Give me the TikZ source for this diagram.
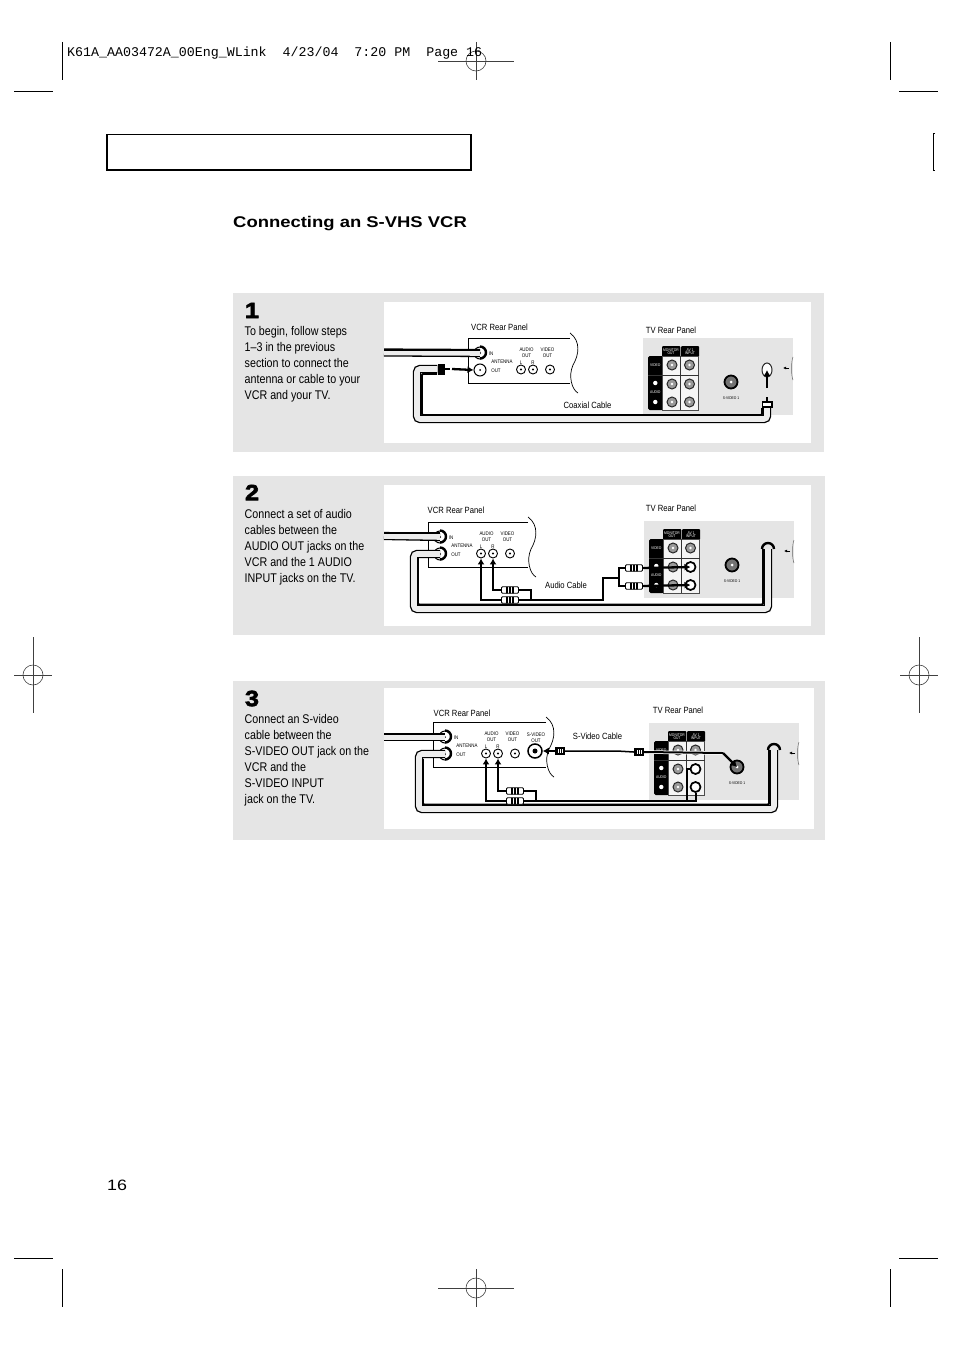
\documentclass[tikz,border=0pt]{standalone}
\usepackage{fontspec}
\usetikzlibrary{arrows.meta,shapes.geometric}
\setmainfont{Liberation Sans}
\newfontfamily\narrowfont[FakeStretch=0.85]{Liberation Sans}
\newfontfamily\widefont[FakeStretch=1.19]{Liberation Sans}
\newfontfamily\numfont[BoldFeatures={FakeStretch=1.15,FakeBold=3}]{Liberation Sans}
\newcommand{\tinytext}{\narrowfont\fontsize{3.9}{4.6}\selectfont}
\newcommand{\vcrtext}{\narrowfont\fontsize{5.2}{6.3}\selectfont}
\tikzset{
  panelbg/.style={fill=black!10},
  crop/.style={line width=0.6pt,black!75},
  cable/.style={double=black!7,double distance=5.6pt,line width=1.3pt,rounded corners=3pt},
  edge/.style={line width=1.8pt,rounded corners=1pt},
  wire/.style={line width=2pt},
  feed/.style={line width=2.3pt,-{Latex[length=6pt,width=7pt]}},
  caption/.style={font=\narrowfont\fontsize{9}{10}\selectfont,inner sep=0pt},
  steptext/.style={font=\narrowfont\fontsize{12.6}{16}\selectfont,align=left,anchor=north west,inner sep=0pt},
  stepnum/.style={font=\numfont\bfseries\fontsize{22}{22}\selectfont,inner sep=0pt},
  tiny/.style={font=\tinytext,align=center,inner sep=0pt},
  vcrlabel/.style={font=\vcrtext,align=center,inner sep=0pt},
  tvjack/.style={circle,draw=black!85,line width=1pt,fill=black!40,minimum size=10pt,inner sep=0pt},
  tvjackon/.style={circle,draw,line width=1.7pt,fill=white,minimum size=10pt,inner sep=0pt},
  vcrjack/.style={circle,draw,line width=0.9pt,fill=white,minimum size=9pt,inner sep=0pt},
  antjack/.style={circle,draw,line width=1pt,fill=white,minimum size=12pt,inner sep=0pt},
  rca/.style={rectangle,draw,line width=0.8pt,fill=white,rounded corners=1pt,minimum width=17pt,minimum height=6.5pt,inner sep=0pt,
    path picture={\foreach \s in {-3,0,3} \draw[line width=1.2pt] (path picture bounding box.center)++(\s,-4) -- ++(0,8);}},
  svplug/.style={rectangle,fill=black,minimum width=10pt,minimum height=8pt,inner sep=0pt,
    path picture={\foreach \s in {-2,0,2} \draw[white,line width=0.7pt] (path picture bounding box.center)++(\s,-2) -- ++(0,4);}},
}
% the back of the TV: x, y, prefix for the names
\newcommand{\tvpanel}[3]{
\begin{scope}[shift={(#1,#2)}]
\fill[black!10] (0,0) rectangle (150,77);
\fill[rounded corners=1.5pt] (5,18) rectangle (20,72);
\fill[rounded corners=1pt] (19,8) rectangle (37.3,19);
\fill[rounded corners=1pt] (38.2,8) rectangle (56,19);
\fill[black!4,draw=black!70,line width=0.6pt] (19,18.5) rectangle (55.5,72);
\draw[line width=0.8pt,black!80] (37.5,18) -- (37.5,72) (5,37.5) -- (55.5,37.5);
\node[tiny,white] (#3mon) at (28,13.5) {MONITOR\\[-1.2pt]OUT};
\node[tiny,white] (#3inp) at (47,13.5) {AV 1\\[-1.2pt]INPUT};
\node[tiny,white] (#3vid) at (12.3,27.5) {VIDEO};
\node[tiny,white] (#3aud) at (12.3,54.5) {AUDIO};
\fill[white] (12.3,45) circle (2.2) (12.3,64) circle (2.2);
\foreach \cx/\col in {29/a,46.5/b} \foreach \cy/\row in {27/1,46/2,64/3} {
  \node[tvjack] (#3\col\row) at (\cx,\cy) {};
  \fill[white] (\cx,\cy) circle (1.3);
}
\node[circle,draw,line width=1.8pt,fill=black!55,minimum size=13pt,inner sep=0pt] (#3sv) at (88,44) {};
\fill[white] (88,44) circle (1.5);
\node[tiny] (#3svt) at (88,60) {S-VIDEO 1};
\draw[line width=1pt,-{Latex[length=3pt,width=3pt]}] (146,30) -- (140,30);
\draw[line width=0.5pt,black!60] (150,19) .. controls (148,23) and (148,38) .. (150,42);
\end{scope}
}
% the back of the VCR: x, y, width, prefix for the names
\newcommand{\vcrpanel}[4]{
\begin{scope}[shift={(#1,#2)}]
\draw[line width=0.7pt] (#3,0) -- (0,0) -- (0,45) -- (#3,45);
\draw[line width=0.7pt] (#3,-5) .. controls ({#3+11},3) and ({#3+9},17) .. ({#3+3},27) .. controls ({#3-2},38) and ({#3+2},52) .. ({#3+8},55);
\node[antjack] (#4in) at (12,15) {};
\node[antjack] (#4out) at (12,32) {};
\fill (#4in) circle (1) (#4out) circle (1);
\node[vcrlabel] (#4tin) at (23,15.5) {IN};
\node[vcrlabel] (#4tant) at (34,23.5) {ANTENNA};
\node[vcrlabel] (#4tout) at (28,32.5) {OUT};
\node[vcrlabel] (#4taud) at (58.5,15) {AUDIO\\OUT};
\node[vcrlabel] (#4tvid) at (79.5,15) {VIDEO\\OUT};
\node[vcrlabel] (#4tl) at (53,24.5) {L};
\node[vcrlabel] (#4tr) at (65,24.5) {R};
\node[vcrjack] (#4al) at (53,31.5) {};
\node[vcrjack] (#4ar) at (65,31.5) {};
\node[vcrjack] (#4vd) at (82,31.5) {};
\fill (#4al) circle (1.2) (#4ar) circle (1.2) (#4vd) circle (1.2);
\end{scope}
}
\newcommand{\cablecap}[1]{\draw[line width=2.4pt] (#1.north) arc[start angle=90,end angle=-90,radius=6pt];}
\begin{document}
\begin{tikzpicture}[x=1pt,y=-1pt]
\useasboundingbox (0,0) rectangle (954,1351);
% printer's marks
\foreach \mx/\my in {476/61,476/1288} {
  \draw[crop] (\mx,\my) circle (10);
  \draw[crop] (\mx-38,\my) -- (\mx+38,\my) (\mx,\my-19) -- (\mx,\my+19);
}
\foreach \mx/\my in {33/675,919/675} {
  \draw[crop] (\mx,\my) circle (10);
  \draw[crop] (\mx-19,\my) -- (\mx+19,\my) (\mx,\my-38) -- (\mx,\my+38);
}
\foreach \mx/\my in {62/42,890/42,62/1269,890/1269} \draw[line width=0.7pt] (\mx,\my) -- (\mx,\my+38);
\foreach \mx/\my in {14/91,899/91,14/1258,899/1258} \draw[line width=0.7pt] (\mx,\my) -- (\mx+39,\my);
\draw[line width=1pt] (935,133.5) -- (933.5,133.5) -- (933.5,170.5) -- (935,170.5);
\node[font=\ttfamily\fontsize{13.3}{15}\selectfont,anchor=west,inner sep=0pt] (slug) at (67,53) {\fontspec{Liberation Mono}K61A\_AA03472A\_00Eng\_WLink\ \ 4/23/04\ \ 7:20 PM\ \ Page 16};
\draw[line width=1.8pt] (107,134.5) rectangle (471,170);
\node[font=\widefont\bfseries\fontsize{15.5}{18}\selectfont,anchor=west,inner sep=0pt] (title) at (233,224) {Connecting an S-VHS VCR};
\node[font=\widefont\fontsize{15}{18}\selectfont,anchor=west,inner sep=0pt] (pageno) at (107,1185) {16};

% step 1
\fill[panelbg] (233,293) rectangle (824,452);
\fill[white] (384,302) rectangle (811,443);
\node[stepnum] (num1) at (252,310.5) {1};
\node[steptext] (text1) at (244.5,326.5) {To begin, follow steps\\1–3 in the previous\\section to connect the\\antenna or cable to your\\VCR and your TV.};
\tvpanel{643}{338}{p}
\vcrpanel{468}{338}{102}{a}
\node[caption] (avcr) at (499.5,327) {VCR Rear Panel};
\node[caption] (atv) at (671,330) {TV Rear Panel};
\node[caption] (acab) at (587.5,405) {Coaxial Cable};
\coordinate (aleft) at (384,352.5);
\coordinate (alefttop) at (384,349.5);
\draw[cable] (aleft) -- (ain.center);
\draw[line width=2pt] (alefttop) -- (alefttop -| ain);
\cablecap{ain}
\node[rectangle,fill=black,minimum width=7pt,minimum height=11pt,inner sep=0pt] (aplug) at (441,369) {};
\node[rectangle,fill=black,minimum width=11pt,minimum height=7pt,inner sep=0pt] (atvplug) at (767,404.5) {};
\fill[white] (763,403) rectangle (771,406);
\coordinate (alow) at (417,419);
\draw[cable] (aplug.west) -| (alow) -| (atvplug.south);
\coordinate (ainner) at (437,374);
\draw[edge] (ainner) -| (422,415) -- (762,415) -- (762,408);
\node[tvjack,ellipse,fill=white,minimum width=10pt,minimum height=14pt] (atvin) at (767,370) {};
\draw[line width=1.3pt] (aplug.east) -- ++(5,0);
\draw[feed] (452,369) -- (aout.west);
\draw[line width=2pt] (atvplug.north) -- ++(0,-4);
\draw[feed] (767,388) -- (atvin.center);

% step 2
\fill[panelbg] (233,476) rectangle (825,635);
\fill[white] (384,485) rectangle (811,626);
\node[stepnum] (num2) at (252,492.5) {2};
\node[steptext] (text2) at (244.5,509.5) {Connect a set of audio\\cables between the\\AUDIO OUT jacks on the\\VCR and the 1 AUDIO\\INPUT jacks on the TV.};
\tvpanel{644}{521}{q}
\vcrpanel{428}{522}{100}{b}
\node[caption] (bvcr) at (456,510) {VCR Rear Panel};
\node[caption] (btv) at (671,508) {TV Rear Panel};
\node[caption] (bcab) at (566,585) {Audio Cable};
\coordinate (bleft) at (384,536);
\coordinate (blefttop) at (384,533);
\draw[cable] (bleft) -- (bin.center);
\draw[line width=2pt] (blefttop) -- (blefttop -| bin);
\cablecap{bin}
\coordinate (blow) at (414,609);
\coordinate (bend) at (768,549);
\draw[cable] (bout.center) -| (blow) -| (bend);
\cablecap{bout}
\draw[edge] (418,558) -- (418,604.5) -- (763,604.5) -- (763,549);
\draw[line width=2.4pt] (762,549) arc[start angle=180,end angle=0,radius=6pt];
\node[rca] (bopa) at (510,590) {};
\node[rca] (bopb) at (510,600) {};
\node[rca] (btvl) at (634,568) {};
\node[rca] (btvr) at (634,586) {};
\coordinate (bjoin) at (531,600);
\coordinate (bmid) at (603,578);
\coordinate (bfork) at (619,578);
\draw[wire] (bopa.east) -| (bjoin);
\draw[wire] (bopb.east) -| (bmid) -- (bfork);
\draw[wire] (btvl.west) -| (bfork) |- (btvr.west);
\draw[feed] (bopb.west) -| (bal.south);
\draw[feed] (bopa.west) -| (bar.south);
\node[tvjackon] (qb2on) at (qb2) {};
\node[tvjackon] (qb3on) at (qb3) {};
\draw[feed] (btvl.east) -- (qb2on.center);
\draw[feed] (btvr.east) -- (qb3on.center);

% step 3
\fill[panelbg] (233,681) rectangle (825,840);
\fill[white] (384,688) rectangle (814,829);
\node[stepnum] (num3) at (252,698.5) {3};
\node[steptext] (text3) at (244.5,714.5) {Connect an S-video\\cable between the\\S-VIDEO OUT jack on the\\VCR and the\\S-VIDEO INPUT\\jack on the TV.};
\tvpanel{649}{723}{r}
\vcrpanel{433}{722}{113}{c}
\node[vcrlabel] (ctsv) at (536,738) {S-VIDEO\\OUT};
\node[circle,draw,line width=1.5pt,fill=white,minimum size=14pt,inner sep=0pt] (csv) at (535,751) {};
\fill (535,751) circle (2.5);
\node[caption] (cvcr) at (462,713) {VCR Rear Panel};
\node[caption] (ctv) at (678,710) {TV Rear Panel};
\node[caption] (ccab) at (597.5,736) {S-Video Cable};
\coordinate (cleft) at (384,737);
\coordinate (clefttop) at (384,734);
\draw[cable] (cleft) -- (cin.center);
\draw[line width=2pt] (clefttop) -- (clefttop -| cin);
\cablecap{cin}
\coordinate (clow) at (419,809);
\coordinate (cend) at (774,750);
\draw[cable] (cout.center) -| (clow) -| (cend);
\cablecap{cout}
\draw[edge] (423,759) -- (423,804.5) -- (769,804.5) -- (769,750);
\draw[line width=2.4pt] (768,750) arc[start angle=180,end angle=0,radius=6pt];
\node[svplug] (csva) at (560,751) {};
\node[svplug] (csvb) at (639,752) {};
\coordinate (cbend) at (617,751);
\coordinate (ckink) at (723,753);
\draw[line width=1.5pt] (csva.east) -- (cbend) -- (csvb.west);
\draw[white,line width=3.5pt] (csvb.east) -- (ckink);
\draw[wire] (csvb.east) -- (ckink);
\draw[feed] (csva.west) -- (csv.east);
\draw[feed] (ckink) -- (rsv.center);
\node[rca] (copa) at (515,791) {};
\node[rca] (copb) at (515,801) {};
\coordinate (cjoin) at (536,801);
\coordinate (cfork) at (687,801);
\node[tvjackon] (rb2on) at (rb2) {};
\node[tvjackon] (rb3on) at (rb3) {};
\draw[wire] (copa.east) -| (cjoin);
\draw[wire] (copb.east) -| (rb3on.south);
\draw[wire] (cfork) |- (rb2on.west);
\draw[feed] (copb.west) -| (cal.south);
\draw[feed] (copa.west) -| (car.south);
\end{tikzpicture}
\end{document}
